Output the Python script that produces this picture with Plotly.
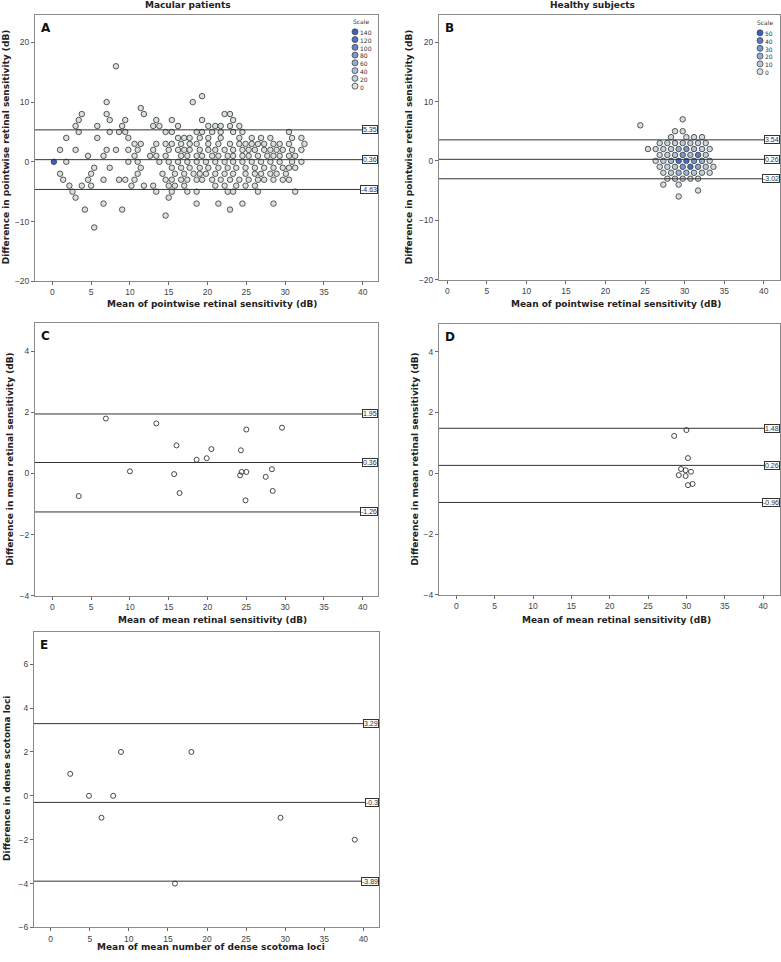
import plotly.graph_objects as go
from plotly.colors import sample_colorscale

W, H = 781, 962
COLORSCALE = [[0.0, "#d8e2e0"], [1.0, "#3563c4"]]

# ---------------- Panel A: macular patients, pointwise (rows of equal difference) ----------------
A_row_diff = [16, 11, 10, 9, 8, 7, 6, 5, 4, 3, 2, 1, 0, -1, -2, -3, -4, -5, -6, -7, -8, -9, -11]
A_row_means = [
    [8.2],
    [19.3],
    [7.0, 18.1],
    [11.4],
    [3.8, 7.0, 11.8, 22.2, 22.9],
    [3.4, 7.4, 9.4, 13.4, 15.4, 19.3, 23.3],
    [3.0, 5.8, 9.0, 13.0, 13.8, 16.2, 20.1, 21.0, 21.7, 22.9, 24.1],
    [3.4, 7.4, 8.6, 9.4, 14.6, 15.4, 18.6, 19.3, 20.6, 21.7, 23.3, 24.5, 30.5],
    [1.8, 5.8, 9.8, 16.2, 17.0, 17.7, 19.0, 20.1, 21.7, 24.1, 25.7, 26.9, 28.1, 30.9, 32.1],
    [10.6, 11.4, 13.4, 14.6, 15.4, 16.6, 17.7, 18.6, 20.1, 21.4, 22.9, 24.1, 24.9, 25.7, 26.5,
     27.3, 28.5, 29.3, 30.5, 32.5],
    [1.0, 3.0, 7.0, 8.2, 9.8, 11.0, 13.0, 15.0, 16.2, 17.0, 17.7, 19.0, 20.1, 21.0, 22.2, 23.3,
     24.5, 25.3, 26.1, 27.3, 28.1, 28.9, 29.7, 30.9, 32.1],
    [4.6, 6.6, 10.6, 12.6, 13.4, 14.6, 16.6, 17.4, 18.6, 19.3, 20.6, 21.4, 22.6, 23.3, 24.5,
     25.3, 26.5, 27.7, 28.5, 29.3, 30.5, 31.3],
    [0.2, 1.8, 9.8, 11.0, 13.8, 15.0, 16.2, 17.4, 18.6, 19.8, 21.0, 22.2, 23.3, 24.5, 25.7,
     26.9, 28.1, 29.3, 30.9, 32.1],
    [5.4, 7.4, 11.4, 15.4, 16.6, 17.7, 19.0, 20.1, 21.4, 22.6, 23.7, 24.9, 26.1, 27.3, 28.5,
     29.7, 30.5, 31.3],
    [1.0, 5.0, 11.0, 14.2, 15.8, 17.0, 18.2, 19.0, 19.8, 21.0, 22.2, 23.3, 24.9, 26.1, 26.9,
     28.1, 28.9, 30.1],
    [1.4, 4.6, 6.6, 8.6, 9.4, 10.6, 14.6, 15.4, 16.6, 17.4, 18.6, 19.3, 20.6, 21.7, 22.9, 24.1,
     25.3, 26.5, 27.3, 28.5, 29.7, 30.5],
    [2.2, 3.8, 5.0, 10.2, 11.8, 13.0, 15.0, 15.8, 17.0, 21.0, 22.2, 23.7, 24.9, 26.1],
    [2.6, 13.4, 15.4, 17.4, 18.6, 22.6, 23.3, 26.5, 31.3],
    [3.0, 15.0],
    [6.6, 18.6, 21.4, 24.5, 28.5],
    [4.2, 9.0, 22.9],
    [14.6],
    [5.4],
]
A_base_count = 1                      # nearly all loci: single observation
A_heavy = [(0.2, 0, 140)]             # the one heavily overlapping point (mean, diff, count)
A_lines = [5.35, 0.36, -4.63]
A_line_labels = ["5.35", "0.36", "-4.63"]
A_scale = [140, 120, 100, 80, 60, 40, 20, 0]

# ---------------- Panel B: healthy subjects, pointwise ----------------
B_row_diff = [7, 6, 5, 4, 3, 2, 1, 0, -1, -2, -3, -4, -5, -6]
B_row_means = [
    [29.76],
    [24.40],
    [28.79, 29.76],
    [28.28, 30.22, 31.19, 32.20],
    [26.85, 27.82, 28.79, 29.76, 30.73, 31.70, 32.67],
    [25.37, 26.34, 27.31, 28.28, 29.25, 30.22, 31.19, 32.20, 33.17],
    [26.85, 27.82, 28.79, 29.76, 30.73, 31.70, 32.67],
    [26.34, 27.31, 28.28, 29.25, 30.22, 31.19, 32.20, 33.17],
    [26.85, 27.82, 28.79, 29.76, 30.73, 31.70, 32.67, 33.64],
    [27.31, 28.28, 29.25, 30.22, 31.19, 32.20, 33.17],
    [27.82, 28.79, 29.76, 30.73, 31.70],
    [27.31, 29.25],
    [31.70],
    [29.25],
]
B_row_counts = [
    [2],
    [1],
    [2, 3],
    [3, 4, 4, 2],
    [4, 6, 8, 10, 8, 6, 4],
    [2, 4, 6, 8, 20, 30, 15, 6, 3],
    [4, 8, 12, 30, 15, 40, 8],
    [3, 8, 15, 45, 45, 30, 20, 5],
    [3, 6, 10, 30, 45, 25, 10, 3],
    [4, 8, 18, 18, 10, 6, 3],
    [3, 5, 8, 6, 4],
    [2, 2],
    [1],
    [1],
]
B_lines = [3.54, 0.26, -3.02]
B_line_labels = ["3.54", "0.26", "-3.02"]
B_scale = [50, 40, 30, 20, 10, 0]

# ---------------- Panel C: macular patients, mean sensitivity ----------------
C_mean = [3.4, 6.9, 10.0, 13.4, 15.7, 16.0, 16.4, 18.6, 19.9, 20.5, 24.3, 24.2, 24.4, 25.0,
          25.0, 24.9, 27.5, 28.3, 28.4, 29.6]
C_diff = [-0.74, 1.80, 0.07, 1.64, -0.02, 0.92, -0.64, 0.45, 0.50, 0.80, 0.76, -0.06, 0.05,
          0.05, 1.44, -0.88, -0.11, 0.14, -0.57, 1.50]
C_lines = [1.95, 0.36, -1.26]
C_line_labels = ["1.95", "0.36", "-1.26"]

# ---------------- Panel D: healthy subjects, mean sensitivity ----------------
D_mean = [28.4, 30.0, 30.2, 29.3, 29.9, 30.6, 29.0, 29.9, 30.2, 30.8]
D_diff = [1.23, 1.42, 0.50, 0.14, 0.10, 0.05, -0.06, -0.09, -0.39, -0.35]
D_lines = [1.48, 0.26, -0.96]
D_line_labels = ["1.48", "0.26", "-0.96"]

# ---------------- Panel E: dense scotoma loci ----------------
E_mean = [2.5, 4.9, 6.5, 8.0, 9.0, 15.9, 18.0, 29.4, 38.9]
E_diff = [1, 0, -1, 0, 2, -4, 2, -1, -2]
E_lines = [3.29, -0.3, -3.89]
E_line_labels = ["3.29", "-0.3", "-3.89"]

# ---------------- layout geometry (pixels) ----------------
PANELS = {
    "A": dict(n=1, box=(35, 378, 15, 282.7), xr=[-2.23, 41.97], yr=[-20, 24.6], dy=10),
    "B": dict(n=2, box=(439, 780, 15, 281), xr=[-1.05, 42.06], yr=[-20, 24.6], dy=10),
    "C": dict(n=3, box=(35, 378, 325, 598.7), xr=[-2.23, 41.97], yr=[-4, 4.92], dy=2),
    "D": dict(n=4, box=(439, 780, 326, 598), xr=[-2.26, 42.2], yr=[-4, 4.9], dy=2),
    "E": dict(n=5, box=(34, 379, 635, 932.3), xr=[-2.13, 42.0], yr=[-6, 7.48], dy=2),
}

FONT = "DejaVu Sans"
TICKFONT = dict(family="Liberation Sans", size=8.5, color="#444")


def px_x(p):
    return p / W


def px_y(p):
    return 1 - p / H


fig = go.Figure()
layout = dict(width=W, height=H, margin=dict(l=0, r=0, t=0, b=0),
              paper_bgcolor="white", plot_bgcolor="white", showlegend=False)
shapes, annotations = [], []

for name, p in PANELS.items():
    n = p["n"]
    l, r, t, b = p["box"]
    xa = "xaxis" if n == 1 else f"xaxis{n}"
    ya = "yaxis" if n == 1 else f"yaxis{n}"
    common = dict(showgrid=False, zeroline=False, showline=True, linecolor="#8a8a8a",
                  linewidth=1, mirror=True, ticks="outside", ticklen=3, tickcolor="#666",
                  tickfont=TICKFONT)
    layout[xa] = dict(common, domain=[px_x(l), px_x(r)], range=p["xr"],
                      tickvals=[0, 5, 10, 15, 20, 25, 30, 35, 40],
                      anchor=f"y{n}" if n > 1 else "y")
    layout[ya] = dict(common, domain=[px_y(b), px_y(t)], range=p["yr"], dtick=p["dy"], tick0=0,
                      anchor=f"x{n}" if n > 1 else "x")
    annotations.append(dict(xref=f"x{n} domain" if n > 1 else "x domain",
                            yref=f"y{n} domain" if n > 1 else "y domain",
                            x=0.012, y=0.985, xanchor="left", yanchor="top", showarrow=False,
                            text=f"<b>{name}</b>", font=dict(family=FONT, size=12, color="#111")))


def add_lines(n, vals, labels):
    xr = "x domain" if n == 1 else f"x{n} domain"
    yr = "y" if n == 1 else f"y{n}"
    for v, lab in zip(vals, labels):
        shapes.append(dict(type="line", xref=xr, yref=yr, x0=0, x1=1, y0=v, y1=v,
                           line=dict(color="#333", width=1)))
        annotations.append(dict(xref=xr, yref=yr, x=1, y=v, xanchor="right", yanchor="middle",
                                text=lab, showarrow=False, bgcolor="white", bordercolor="#333",
                                borderwidth=1, borderpad=0,
                                font=dict(family="Liberation Sans", size=7, color="#333")))


# ---- Panel A points ----
ax_, ay_, ac_ = [], [], []
heavy = {(m, d): c for m, d, c in A_heavy}
for d, row in zip(A_row_diff, A_row_means):
    for m in row:
        ax_.append(m)
        ay_.append(d)
        ac_.append(heavy.get((m, d), A_base_count))
fig.add_trace(go.Scatter(x=ax_, y=ay_, mode="markers", xaxis="x", yaxis="y",
                         marker=dict(size=5.5, color=ac_, colorscale=COLORSCALE, cmin=0, cmax=max(A_scale),
                                     line=dict(color="#444", width=0.9))))
add_lines(1, A_lines, A_line_labels)

# ---- Panel B points ----
bx_, by_, bc_ = [], [], []
for d, row, cnts in zip(B_row_diff, B_row_means, B_row_counts):
    for m, c in zip(row, cnts):
        bx_.append(m)
        by_.append(d)
        bc_.append(c)
fig.add_trace(go.Scatter(x=bx_, y=by_, mode="markers", xaxis="x2", yaxis="y2",
                         marker=dict(size=5.5, color=bc_, colorscale=COLORSCALE, cmin=0, cmax=max(B_scale),
                                     line=dict(color="#444", width=0.9))))
add_lines(2, B_lines, B_line_labels)

# ---- Panels C, D, E ----
for n, xs, ys, lv, ll in [(3, C_mean, C_diff, C_lines, C_line_labels),
                          (4, D_mean, D_diff, D_lines, D_line_labels),
                          (5, E_mean, E_diff, E_lines, E_line_labels)]:
    fig.add_trace(go.Scatter(x=xs, y=ys, mode="markers", xaxis=f"x{n}", yaxis=f"y{n}",
                             marker=dict(size=5, color="rgba(0,0,0,0)",
                                         line=dict(color="#333", width=0.9))))
    add_lines(n, lv, ll)

# ---- size scales (legends): one multi-line text block + colour circles ----
LEG_FONT = 6
LEG_STEP = 1.3 * LEG_FONT   # plotly line spacing for multi-line text


def add_scale(values, cmax, title_xy, circ_x, text_x, y0):
    annotations.append(dict(xref="paper", yref="paper", x=px_x(title_xy[0]), y=px_y(title_xy[1]),
                            xanchor="center", yanchor="middle", text="Scale", showarrow=False,
                            font=dict(family=FONT, size=6, color="#333")))
    annotations.append(dict(xref="paper", yref="paper", x=px_x(text_x), y=px_y(y0 - LEG_STEP / 2),
                            xanchor="left", yanchor="top", align="left", showarrow=False,
                            text="<br>".join(str(v) for v in values), borderpad=0,
                            font=dict(family=FONT, size=LEG_FONT, color="#333")))
    cols = sample_colorscale(COLORSCALE, [v / cmax for v in values])
    for i, c in enumerate(cols):
        yy = y0 + i * LEG_STEP
        shapes.append(dict(type="circle", xref="paper", yref="paper", xsizemode="pixel",
                           ysizemode="pixel", xanchor=px_x(circ_x), yanchor=px_y(yy),
                           x0=-3, x1=3, y0=-3, y1=3, fillcolor=c, line=dict(color="#444", width=0.8)))


add_scale(A_scale, max(A_scale), (361, 22), 355, 358.5, 32.0)
add_scale(B_scale, max(B_scale), (765, 22.5), 760, 763.5, 33.0)


# ---- titles ----
def text(x, y, s, angle=0, size=9):
    annotations.append(dict(xref="paper", yref="paper", x=px_x(x), y=px_y(y), xanchor="center",
                            yanchor="middle", text=f"<b>{s}</b>", showarrow=False, textangle=angle,
                            font=dict(family=FONT, size=size, color="#222")))


text(188, 5, "Macular patients")
text(592, 5, "Healthy subjects")
text(212, 306, "Mean of pointwise retinal sensitivity (dB)")
text(616, 306, "Mean of pointwise retinal sensitivity (dB)")
text(212, 623, "Mean of mean retinal sensitivity (dB)")
text(616, 623, "Mean of mean retinal sensitivity (dB)")
text(211, 952, "Mean of mean number of dense scotoma loci")
text(6, 148, "Difference in pointwise retinal sensitivity (dB)", angle=-90)
text(409, 148, "Difference in pointwise retinal sensitivity (dB)", angle=-90)
text(10, 462, "Difference in mean retinal sensitivity (dB)", angle=-90)
text(415, 462, "Difference in mean retinal sensitivity (dB)", angle=-90)
text(7, 783, "Difference in dense scotoma loci", angle=-90)

layout["shapes"] = shapes
layout["annotations"] = annotations
fig.update_layout(**layout)
fig.write_html("out.html", config={"displayModeBar": False},
               post_script="document.body.style.margin='0px';document.body.style.overflow='hidden';")
